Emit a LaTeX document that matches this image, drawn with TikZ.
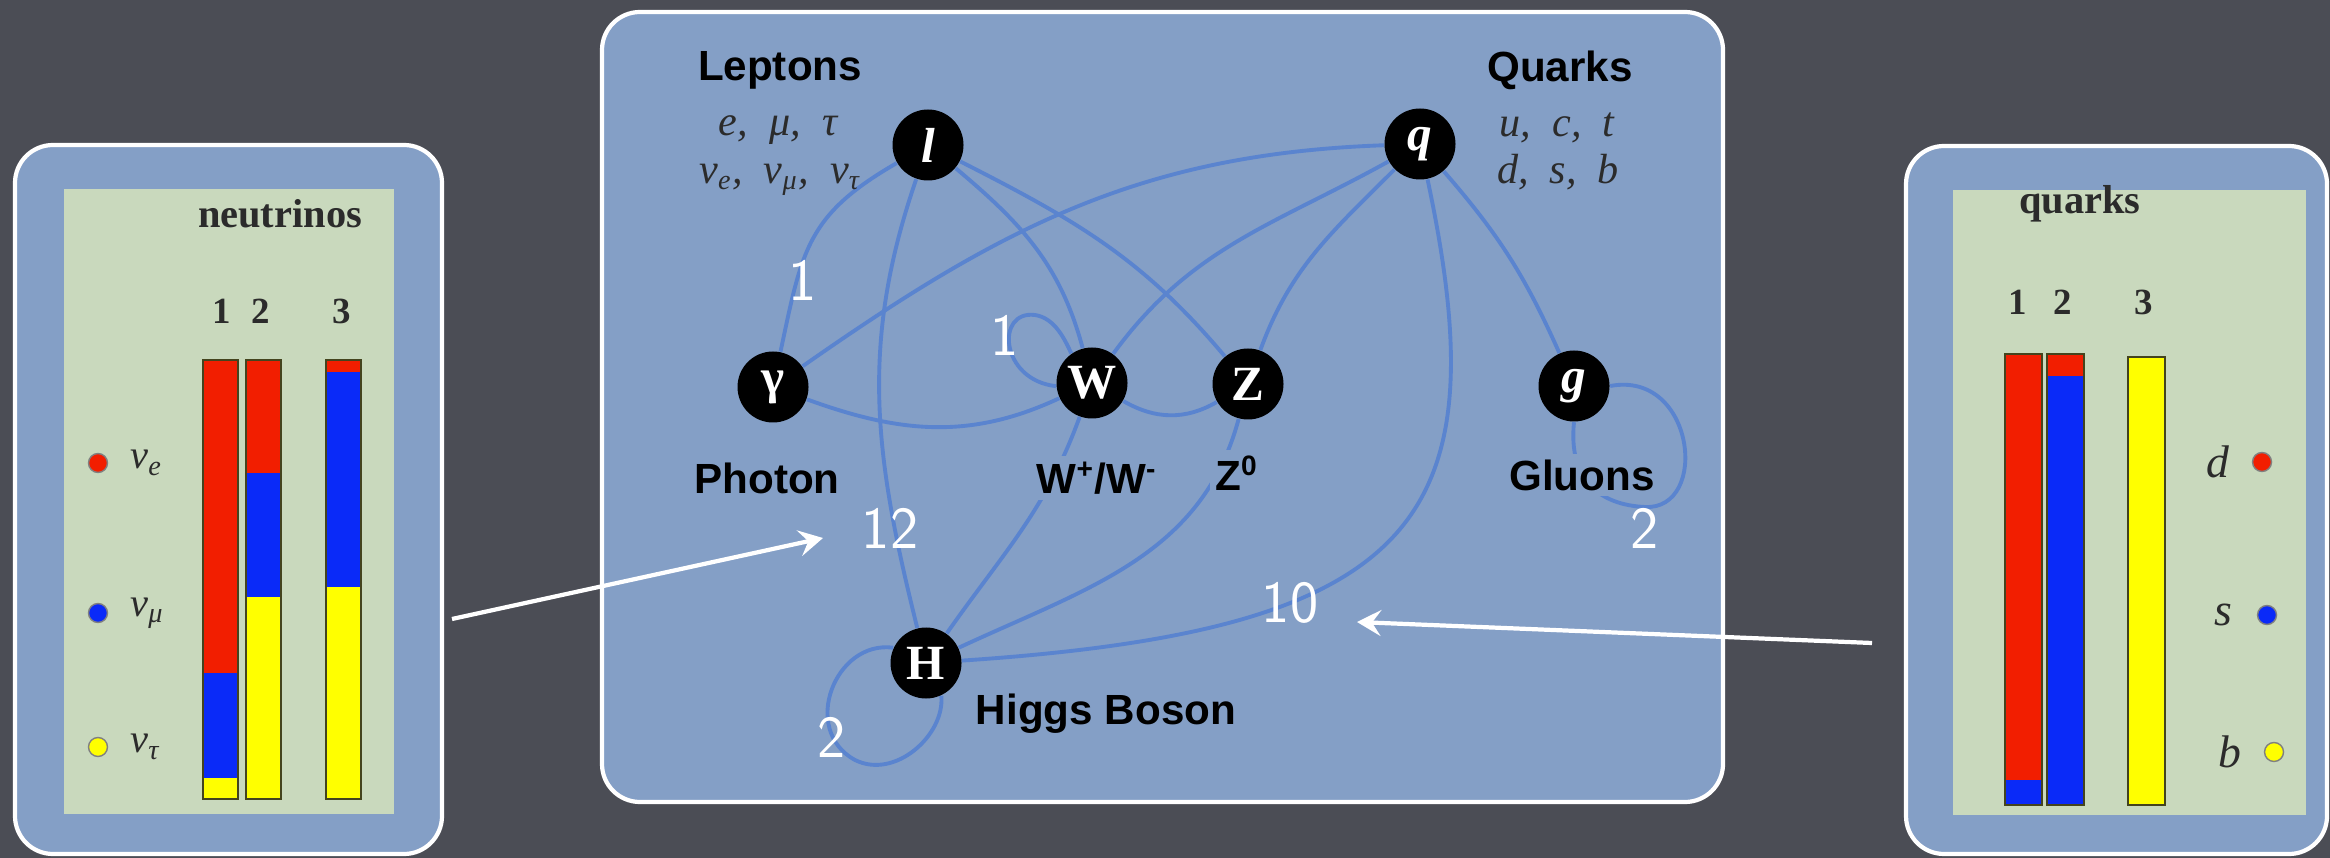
\documentclass[tikz,border=0pt]{standalone}
\usepackage{fontspec}
\setmainfont{Liberation Serif}
\newfontfamily\labelfont{Liberation Sans}
\usetikzlibrary{arrows.meta}
\pgfdeclarelayer{back}
\pgfdeclarelayer{links}
\pgfsetlayers{back,links,main}
\definecolor{cbg}{HTML}{4B4D55}
\definecolor{cpanel}{HTML}{849FC6}
\definecolor{cedge}{HTML}{5A84CF}
\definecolor{cplate}{HTML}{C9D9BD}
\definecolor{cred}{HTML}{F21E00}
\definecolor{cblue}{HTML}{0A2AF8}
\definecolor{cyellow}{HTML}{FFFF00}
\definecolor{cink}{HTML}{2B2B2B}
\tikzset{
  panelbox/.style={draw=white, line width=1.2pt, fill=cpanel, rounded corners=0.38cm},
  particle/.style={circle, fill=black, minimum size=0.71cm, inner sep=0pt, text=white, font=\bfseries\fontsize{14}{14}\selectfont},
  link/.style={draw=cedge, line width=1.1pt},
  title/.style={font=\labelfont\bfseries\fontsize{12}{14}\selectfont, fill=cpanel, inner sep=1.5pt},
  flavour/.style={font=\itshape\fontsize{12}{14}\selectfont, text=cink},
  count/.style={text=white, font=\sffamily\fontsize{17}{17}\selectfont},
  pointer/.style={draw=white, line width=1.2pt, -{Stealth[length=2.4mm, width=2.6mm, inset=0.9mm]}},
  bartext/.style={font=\bfseries\fontsize{10.5}{12}\selectfont, text=cink},
  legend/.style={font=\itshape\fontsize{11.5}{13}\selectfont, text=cink},
}

\begin{document}
\begin{tikzpicture}
  \useasboundingbox (0,0) rectangle (23.30,-8.58);
  % one mixing bar: #1 left x, #2 width, #3 top, #4 red/blue, #5 blue/yellow, #6 bottom
  \newcommand{\mixbar}[6]{
    \fill[cred] (#1,#3) rectangle ({#1+#2},#4);
    \fill[cblue] (#1,#4) rectangle ({#1+#2},#5);
    \fill[cyellow] (#1,#5) rectangle ({#1+#2},#6);
    \draw[cink!70!olive, line width=0.5pt] (#1,#3) rectangle ({#1+#2},#6);}

  \begin{pgfonlayer}{back}
    \fill[cbg] (0,0) rectangle (23.30,-8.58);
    \draw[panelbox] (6.02,-0.12) rectangle (17.23,-8.02);
    \draw[panelbox] (0.15,-1.45) rectangle (4.42,-8.54);
    \draw[panelbox] (19.06,-1.46) rectangle (23.27,-8.54);
    \fill[cplate] (0.64,-1.89) rectangle (3.94,-8.14);
    \fill[cplate] (19.53,-1.90) rectangle (23.06,-8.15);
  \end{pgfonlayer}

  % neutrino mixing
  \node[bartext, font=\bfseries\fontsize{11.5}{13}\selectfont] (nutitle) at (2.80,-2.14) {neutrinos};
  \foreach \x/\a/\b/\c/\d in {2.03/-3.60/-6.73/-7.78/-7.99, 2.46/-3.60/-4.73/-5.97/-7.99, 3.26/-3.60/-3.72/-5.87/-7.99}
    \mixbar{\x}{0.35}{\a}{\b}{\c}{\d};
  \foreach \x/\n in {2.22/1, 2.61/2, 3.42/3} \node[bartext] (nunum\n) at (\x,-3.11) {\n};
  \foreach \y/\c/\s in {-4.63/cred/e, -6.13/cblue/μ, -7.47/cyellow/τ} {
    \filldraw[fill=\c, draw=cink!60, line width=0.4pt] (0.98,\y) circle (0.095);
    \node[legend, anchor=west] (nu\s) at (1.18,\y) {ν\textsubscript{\s}};
  }

  % quark mixing
  \node[bartext, font=\bfseries\fontsize{11.5}{13}\selectfont] (qtitle) at (20.80,-2.04) {quarks};
  \foreach \x/\a/\b/\c/\d in {20.05/-3.54/-7.80/-8.05/-8.05, 20.47/-3.54/-3.76/-8.05/-8.05, 21.28/-3.57/-3.57/-3.57/-8.05}
    \mixbar{\x}{0.37}{\a}{\b}{\c}{\d};
  \foreach \x/\n in {20.18/1, 20.63/2, 21.44/3} \node[bartext] (qnum\n) at (\x,-3.02) {\n};
  \foreach \x/\y/\c/\s in {22.18/-4.62/cred/d, 22.23/-6.15/cblue/s, 22.30/-7.52/cyellow/b} {
    \node[legend, font=\itshape\fontsize{13}{14}\selectfont] (q\s) at (\x,\y) {\s};
    \filldraw[fill=\c, draw=cink!60, line width=0.4pt] (\x+0.44,\y) circle (0.095);
  }

  % particles
  \node[particle] (lep) at (9.28,-1.45) {\textit{l}};
  \node[particle] (qrk) at (14.20,-1.44) {\textit{q}};
  \node[particle] (gam) at (7.73,-3.87) {γ};
  \node[particle] (wbos) at (10.92,-3.83) {W};
  \node[particle] (zbos) at (12.48,-3.84) {Z};
  \node[particle] (glu) at (15.74,-3.86) {\textit{g}};
  \node[particle] (hig) at (9.26,-6.63) {H};

  % interactions
  \begin{pgfonlayer}{links}
  \draw[link] (lep) to[out=210, in=78, looseness=1.2] (gam);
  \draw[link] (lep) to[out=251, in=104] (hig);
  \draw[link] (lep) to[out=-40, in=105] (wbos);
  \draw[link] (lep) to[out=-27, in=130] (zbos);
  \draw[link] (qrk) to[out=182, in=35] (gam);
  \draw[link] (qrk) to[out=209, in=54] (wbos);
  \draw[link] (qrk) to[out=225, in=70] (zbos);
  \draw[link] (qrk) to[out=-49, in=114] (glu);
  \draw[link] (qrk) .. controls (15.0,-5.2) and (14.2,-6.3) .. (hig);
  \draw[link] (wbos) to[out=250, in=55] (hig);
  \draw[link] (zbos) to[out=255, in=25] (hig);
  \draw[link] (gam) to[out=-20, in=205] (wbos);
  \draw[link] (wbos) to[out=-30, in=210] (zbos);
  \draw[link] (wbos.185) .. controls (10.0,-3.8) and (9.95,-3.1) .. (10.35,-3.15)
    .. controls (10.55,-3.18) and (10.65,-3.4) .. (wbos.125);
  \draw[link] (glu.east) .. controls (16.95,-3.70) and (17.10,-5.10) .. (16.45,-5.07)
    .. controls (16.0,-5.05) and (15.68,-4.8) .. (glu.south);
  \draw[link] (hig.155) .. controls (8.35,-6.40) and (8.0,-7.3) .. (8.55,-7.6)
    .. controls (8.95,-7.8) and (9.45,-7.35) .. (hig.-65);
  \end{pgfonlayer}

  % names
  \node[title] (leptons) at (7.80,-0.70) {Leptons};
  \node[flavour] (lepa) at (7.78,-1.30) {e,\enspace μ,\enspace τ};
  \node[flavour] (lepb) at (7.80,-1.80) {ν\textsubscript{e},\enspace ν\textsubscript{μ},\enspace ν\textsubscript{τ}};
  \node[title] (quarks) at (15.60,-0.70) {Quarks};
  \node[flavour] (qrka) at (15.57,-1.28) {u,\enspace c,\enspace t};
  \node[flavour] (qrkb) at (15.58,-1.72) {d,\enspace s,\enspace b};
  \node[title] (photon) at (7.67,-4.78) {Photon};
  \node[title] (wname) at (10.97,-4.78) {W\textsuperscript{+}/W\textsuperscript{-}};
  \node[title] (zname) at (12.37,-4.73) {Z\textsuperscript{0}};
  \node[title] (gluons) at (15.82,-4.75) {Gluons};
  \node[title] (higgs) at (11.06,-7.14) {Higgs Boson};

  % counts
  \node[count] (clg) at (8.03,-2.80) {1};
  \node[count] (cww) at (10.05,-3.35) {1};
  \node[count] (clh) at (8.90,-5.28) {12};
  \node[count] (chh) at (8.32,-7.37) {2};
  \node[count] (cqh) at (12.90,-6.03) {10};
  \node[count] (cgg) at (16.45,-5.28) {2};

  % pointers from the mixing plots
  \coordinate (nufrom) at (4.52,-6.19);
  \coordinate (nuto) at (8.23,-5.38);
  \coordinate (qfrom) at (18.72,-6.43);
  \coordinate (qto) at (13.57,-6.22);
  \draw[pointer] (nufrom) -- (nuto);
  \draw[pointer] (qfrom) -- (qto);
\end{tikzpicture}
\end{document}
